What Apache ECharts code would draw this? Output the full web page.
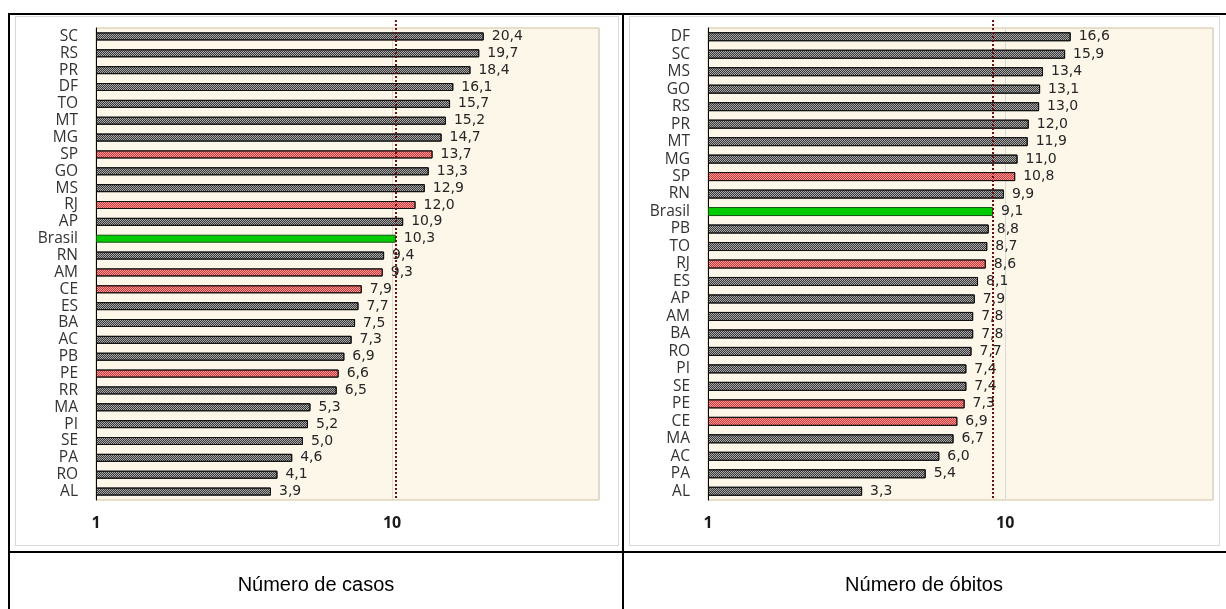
<!DOCTYPE html>
<html>
<head>
<meta charset="utf-8">
<script src="https://cdn.jsdelivr.net/npm/echarts@6/dist/echarts.min.js"></script>
<style>
html,body{margin:0;padding:0;background:#fff;}
#c{width:1226px;height:609px;}
</style>
</head>
<body>
<div id="c"></div>
<script>
// ---- data ----
const casosCats = ['SC','RS','PR','DF','TO','MT','MG','SP','GO','MS','RJ','AP','Brasil','RN','AM','CE','ES','BA','AC','PB','PE','RR','MA','PI','SE','PA','RO','AL'];
const casosVals = [20.4,19.7,18.4,16.1,15.7,15.2,14.7,13.7,13.3,12.9,12.0,10.9,10.3,9.4,9.3,7.9,7.7,7.5,7.3,6.9,6.6,6.5,5.3,5.2,5.0,4.6,4.1,3.9];
const casosRed = ['SP','RJ','AM','CE','PE'];

const obitosCats = ['DF','SC','MS','GO','RS','PR','MT','MG','SP','RN','Brasil','PB','TO','RJ','ES','AP','AM','BA','RO','PI','SE','PE','CE','MA','AC','PA','AL'];
const obitosVals = [16.6,15.9,13.4,13.1,13.0,12.0,11.9,11.0,10.8,9.9,9.1,8.8,8.7,8.6,8.1,7.9,7.8,7.8,7.7,7.4,7.4,7.3,6.9,6.7,6.0,5.4,3.3];
const obitosRed = ['SP','RJ','PE','CE'];

const refCategory = 'Brasil';
const xTicks = [1, 10];
const axisMin = 1, axisMax = 50;
const panelTitles = ['Número de casos', 'Número de óbitos'];

// ---- styles ----
const grayStyle = {
  color: '#a8a8a8', borderColor: '#111', borderWidth: 1,
  decal: {symbol: 'rect', symbolSize: 1, dashArrayX: [[1,1],[0,1,1,0]], dashArrayY: [1,0], color: 'rgba(30,30,30,0.8)'}
};
const redStyle = {
  color: '#f29a9a', borderColor: '#111', borderWidth: 1,
  decal: {symbol: 'rect', symbolSize: 1, dashArrayX: [[1,1],[0,1,1,0]], dashArrayY: [1,0], color: 'rgba(210,40,40,0.85)'}
};
const greenStyle = {color: '#00cc00', borderColor: '#145214', borderWidth: 1};
const refLine = {type: 'dotted', color: '#6e0f0f', width: 2};

function buildData(cats, vals, reds) {
  return vals.map((v, i) => {
    const c = cats[i];
    let st = grayStyle;
    if (c === refCategory) st = greenStyle;
    else if (reds.indexOf(c) >= 0) st = redStyle;
    return {value: v, itemStyle: st};
  });
}
const fmt = v => Number(v).toFixed(1).replace('.', ',');

function xAxisCfg(gi) {
  return {
    type: 'log', logBase: 10, min: axisMin, max: axisMax, gridIndex: gi,
    axisLine: {show: false}, axisTick: {show: false},
    splitLine: {show: true, lineStyle: {color: '#d9d9d9', width: 1}},
    axisLabel: {
      margin: 15, color: '#1a1a1a', fontFamily: 'Open Sans', fontWeight: 'bold', fontSize: 16,
      showMaxLabel: false,
      formatter: v => (xTicks.indexOf(Math.round(v)) >= 0 && Math.abs(v - Math.round(v)) < 1e-6) ? String(Math.round(v)) : ''
    }
  };
}
function yAxisCfg(gi, cats) {
  return {
    type: 'category', data: cats, inverse: true, gridIndex: gi,
    axisLine: {show: true, lineStyle: {color: '#000', width: 1}},
    axisTick: {show: false},
    axisLabel: {margin: 18, color: '#333', fontFamily: 'Open Sans', fontSize: 15.5, interval: 0}
  };
}
function seriesCfg(gi, cats, vals, reds, bw) {
  const refVal = vals[cats.indexOf(refCategory)];
  return {
    type: 'bar', xAxisIndex: gi, yAxisIndex: gi, barWidth: bw,
    data: buildData(cats, vals, reds),
    label: {
      show: true, position: 'right', distance: 8, color: '#262626',
      fontFamily: 'DejaVu Sans', fontSize: 14,
      formatter: p => fmt(p.value)
    },
    markLine: {
      silent: true, symbol: 'none', label: {show: false},
      lineStyle: refLine,
      data: [{xAxis: refVal}]
    },
    animation: false
  };
}

const gridStyle = {show: true, backgroundColor: '#fdf7e9', borderColor: '#d2bf9e', borderWidth: 1};

const baseGraphic = [
  {type: 'rect', shape: {x: 15.5, y: 16.5, width: 603, height: 529}, style: {fill: 'transparent', stroke: '#d9d9d9', lineWidth: 1}, z: -10, silent: true},
  {type: 'rect', shape: {x: 629.5, y: 16.5, width: 590, height: 529}, style: {fill: 'transparent', stroke: '#d9d9d9', lineWidth: 1}, z: -10, silent: true},
  {type: 'rect', shape: {x: 8, y: 13, width: 1218, height: 2}, style: {fill: '#000'}, silent: true},
  {type: 'rect', shape: {x: 8, y: 13, width: 2, height: 596}, style: {fill: '#000'}, silent: true},
  {type: 'rect', shape: {x: 622, y: 13, width: 2, height: 596}, style: {fill: '#000'}, silent: true},
  {type: 'rect', shape: {x: 8, y: 551, width: 1218, height: 2}, style: {fill: '#000'}, silent: true},
  {type: 'text', x: 316, y: 585, style: {text: panelTitles[0], fill: '#000', font: '20px "Liberation Sans", Arial, sans-serif', textAlign: 'center', textVerticalAlign: 'middle'}, silent: true},
  {type: 'text', x: 924, y: 585, style: {text: panelTitles[1], fill: '#000', font: '20px "Liberation Sans", Arial, sans-serif', textAlign: 'center', textVerticalAlign: 'middle'}, silent: true}
];

const chart = echarts.init(document.getElementById('c'));
chart.setOption({
  animation: false,
  backgroundColor: '#ffffff',
  grid: [
    Object.assign({left: 96, right: 627, top: 28, bottom: 109}, gridStyle),
    Object.assign({left: 708, right: 13, top: 28, bottom: 109}, gridStyle)
  ],
  xAxis: [xAxisCfg(0), xAxisCfg(1)],
  yAxis: [yAxisCfg(0, casosCats), yAxisCfg(1, obitosCats)],
  series: [
    seriesCfg(0, casosCats, casosVals, casosRed, 8),
    seriesCfg(1, obitosCats, obitosVals, obitosRed, 9)
  ],
  graphic: baseGraphic
});

// extend the reference dotted line slightly above the plot area (position from the axis scale)
const ext = [];
[[0, casosCats, casosVals], [1, obitosCats, obitosVals]].forEach(([gi, cats, vals]) => {
  const refVal = vals[cats.indexOf(refCategory)];
  const px = chart.convertToPixel({xAxisIndex: gi}, refVal);
  ext.push({type: 'line', shape: {x1: px, y1: 20, x2: px, y2: 28}, style: {stroke: refLine.color, lineWidth: 2, lineDash: [2, 2]}, silent: true});
});
chart.setOption({graphic: baseGraphic.concat(ext)});
</script>
</body>
</html>
